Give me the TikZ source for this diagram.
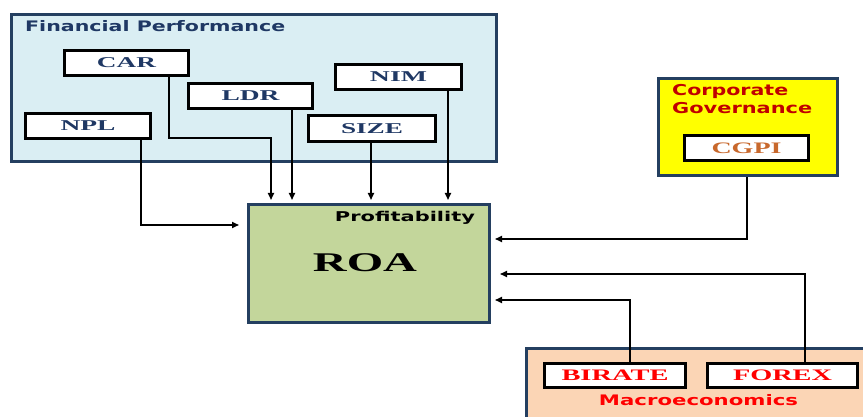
\documentclass[tikz,border=0pt]{standalone}
\usepackage{fontspec}
\setmainfont{Liberation Serif}
\newfontfamily\hdfont{DejaVu Sans}
\usetikzlibrary{arrows.meta}
\definecolor{navyb}{HTML}{243F60}
\definecolor{navyt}{HTML}{1F3864}
\definecolor{fpfill}{HTML}{DAEEF3}
\definecolor{roafill}{HTML}{C3D69B}
\definecolor{cgfill}{HTML}{FFFF00}
\definecolor{cgtext}{HTML}{C00000}
\definecolor{cgpitext}{HTML}{C8682C}
\definecolor{mefill}{HTML}{FBD5B5}
\definecolor{metext}{HTML}{FF0000}
\newcommand\fw[2]{\resizebox{#1}{\height}{#2}}
\newcommand\lab[3]{\fw{#1}{\fontsize{#2}{#2}\selectfont\bfseries #3}}
\newcommand\hd[3]{\fw{#1}{\hdfont\fontsize{#2}{#2}\selectfont\bfseries #3}}
\tikzset{
  grp/.style={draw=navyb, line width=3pt, inner sep=0pt},
  ibox/.style={draw=black, fill=white, line width=3.2pt, inner sep=0pt, minimum height=25pt},
  txt/.style={inner sep=0pt},
  arr/.style={line width=1.6pt, -{Triangle[length=7pt,width=6pt]}}
}
\begin{document}
\begin{tikzpicture}[x=1pt,y=-1pt]
\useasboundingbox (0,0) rectangle (863,417);
\clip (0,0) rectangle (863,417);
% groups
\node[grp, fill=fpfill, minimum width=485pt, minimum height=147pt] (fp) at (254,88) {};
\node[txt, anchor=base west, text=navyt] (fpt) at (25,32) {\hd{260pt}{14.5}{Financial Performance}};
\node[grp, fill=roafill, minimum width=241pt, minimum height=118pt] (roa) at (369,263.5) {};
\node[txt, anchor=base, text=black] (prof) at (405,222) {\hd{140pt}{13.5}{Profitability}};
\node[txt, anchor=base, text=black] (roat) at (365,272) {\lab{104pt}{27}{ROA}};
\node[grp, fill=cgfill, minimum width=179pt, minimum height=97pt] (cg) at (748,127) {};
\node[txt, anchor=base west, text=cgtext] (cgt1) at (672,96) {\hd{116pt}{15}{Corporate}};
\node[txt, anchor=base west, text=cgtext] (cgt2) at (672,114) {\hd{140pt}{15}{Governance}};
\node[grp, fill=mefill, minimum width=354pt, minimum height=100pt] (me) at (703,398) {};
\node[txt, anchor=base, text=metext] (met) at (698.5,405) {\hd{199pt}{14.5}{Macroeconomics}};
% inner boxes
\node[ibox, minimum width=124pt, text=navyt] (car) at (126.5,63) {\lab{59pt}{15}{CAR}};
\node[ibox, minimum width=124pt, text=navyt] (ldr) at (250.5,96) {\lab{58pt}{15}{LDR}};
\node[ibox, minimum width=126pt, text=navyt] (nim) at (398.5,77) {\lab{57pt}{15}{NIM}};
\node[ibox, minimum width=125pt, text=navyt] (npl) at (88,126) {\lab{55pt}{15}{NPL}};
\node[ibox, minimum width=127pt, minimum height=26pt, text=navyt] (size) at (372,128.5) {\lab{62pt}{15}{SIZE}};
\node[ibox, minimum width=124pt, text=cgpitext] (cgpi) at (746.5,148) {\lab{70pt}{16}{CGPI}};
\node[ibox, minimum width=141pt, minimum height=24pt, text=metext] (birate) at (615,375.5) {\lab{107pt}{16}{BIRATE}};
\node[ibox, minimum width=150pt, minimum height=24pt, text=metext] (forex) at (782.5,375.5) {\lab{99pt}{16}{FOREX}};
% connectors
\draw[arr, shorten >=8pt] ([xshift=53pt]npl.south) |- ([yshift=38.5pt]roa.west);
\draw[arr, shorten >=3pt] ([xshift=42.5pt]car.south) -- ++(0,61) -| ([xshift=-98pt]roa.north);
\draw[arr, shorten >=3pt] ([xshift=41.5pt]ldr.south) -- ([xshift=41.5pt]ldr.south |- roa.north);
\draw[arr, shorten >=3pt] ([xshift=-1pt]size.south) -- ([xshift=-1pt]size.south |- roa.north);
\draw[arr, shorten >=3pt] ([xshift=49.5pt]nim.south) -- ([xshift=49.5pt]nim.south |- roa.north);
\draw[arr, shorten >=4pt] ([xshift=-1pt]cg.south) |- ([yshift=24.5pt]roa.east);
\draw[arr, shorten >=9pt] ([xshift=22.5pt]forex.north) |- ([yshift=-10.5pt]roa.east);
\draw[arr, shorten >=4pt] ([xshift=15pt]birate.north) |- ([yshift=-36.5pt]roa.east);
\end{tikzpicture}
\end{document}
